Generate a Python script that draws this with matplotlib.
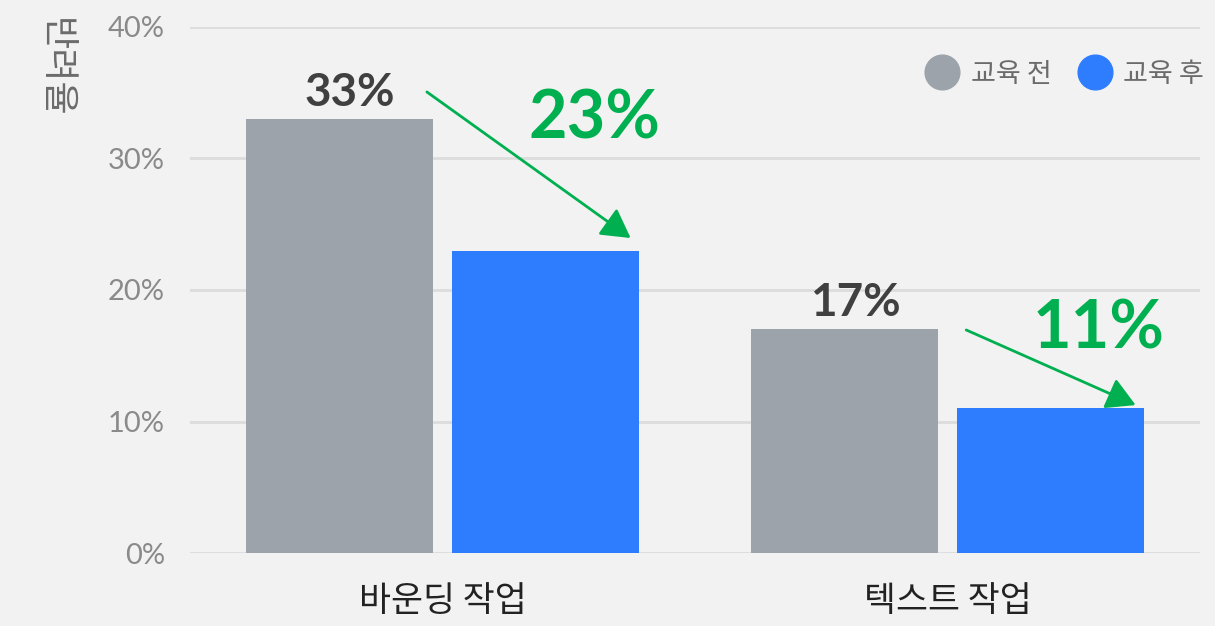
import numpy as np
import matplotlib
matplotlib.use('Agg')
import matplotlib.pyplot as plt
from matplotlib.lines import Line2D

plt.rcParams['font.family'] = ['Lato', 'Noto Sans CJK KR', 'DejaVu Sans']

categories = ['바운딩 작업', '텍스트 작업']
before = [33, 17]
after = [23, 11]
series_names = ['교육 전', '교육 후']
yticks = [0, 10, 20, 30, 40]
ytick_labels = ['0%', '10%', '20%', '30%', '40%']
ylabel = '반려율'

gray = '#9ca3aa'
blue = '#2f7dff'
green = '#00b050'
bg = '#f2f2f2'

fig = plt.figure(figsize=(12.15, 6.26), dpi=100, facecolor=bg)
ax = fig.add_axes([0.1564, 0.1166, 0.8313, 0.8403])
ax.set_facecolor(bg)

x = np.arange(len(categories))
w = 0.37
off = 0.2035
ax.bar(x - off, before, width=w, color=gray, zorder=3)
ax.bar(x + off, after, width=w, color=blue, zorder=3)

ax.set_xlim(-0.5, 1.5)
ax.set_ylim(0, 40)
ax.set_yticks(yticks)
ax.set_yticklabels(ytick_labels, fontsize=21, color='#8a8a8a')
ax.set_xticks(x)
ax.set_xticklabels(categories, fontsize=25, color='#222222',
                   family=['Noto Sans CJK KR', 'DejaVu Sans'])
ax.tick_params(axis='y', length=0, pad=18)
ax.tick_params(axis='x', length=0, pad=22)
ax.yaxis.grid(True, color='#dcdcdc', lw=2, zorder=0)
ax.set_axisbelow(True)
for s in ax.spines.values():
    s.set_visible(False)

# value labels and arrows
for i in range(len(categories)):
    ax.text(x[i] - off + 0.02, before[i] + 0.4, f'{before[i]}%', ha='center', va='bottom',
            fontsize=33, fontweight='bold', color='#404040')
    ax.text(x[i] + 0.30, before[i], f'{after[i]}%',
            ha='center', va='center', fontsize=48, fontweight='bold', color=green)
    start_y = before[i] + 2.06 if i == 0 else before[i] - 0.04
    start_x = x[i] - 0.031 if i == 0 else x[i] + 0.037
    end_y = after[i] + 0.95 if i == 0 else after[i] + 0.25
    ax.annotate('', xy=(x[i] + 0.3725, end_y), xytext=(start_x, start_y),
                arrowprops=dict(arrowstyle='-|>,head_length=0.8,head_width=0.45',
                                color=green, lw=2, mutation_scale=22,
                                shrinkA=0, shrinkB=0), zorder=5)

handles = [Line2D([], [], marker='o', ls='', markersize=25, color=c) for c in (gray, blue)]
leg = ax.legend(handles, series_names, loc='center right', bbox_to_anchor=(1.004, 0.91),
                ncol=2, frameon=False, handlelength=1.2, handletextpad=0.45,
                columnspacing=1.0, borderpad=0, borderaxespad=0,
                prop={'family': ['Noto Sans CJK KR', 'DejaVu Sans'], 'size': 19.5})
for t in leg.get_texts():
    t.set_color('#6b6b6b')

fig.text(55 / 1215, 1 - 18 / 626, ylabel, rotation=270, ha='center', va='top',
         fontsize=26, color='#6b6b6b', family=['Noto Sans CJK KR', 'DejaVu Sans'])

fig.savefig('out.png', dpi=100, facecolor=bg)
